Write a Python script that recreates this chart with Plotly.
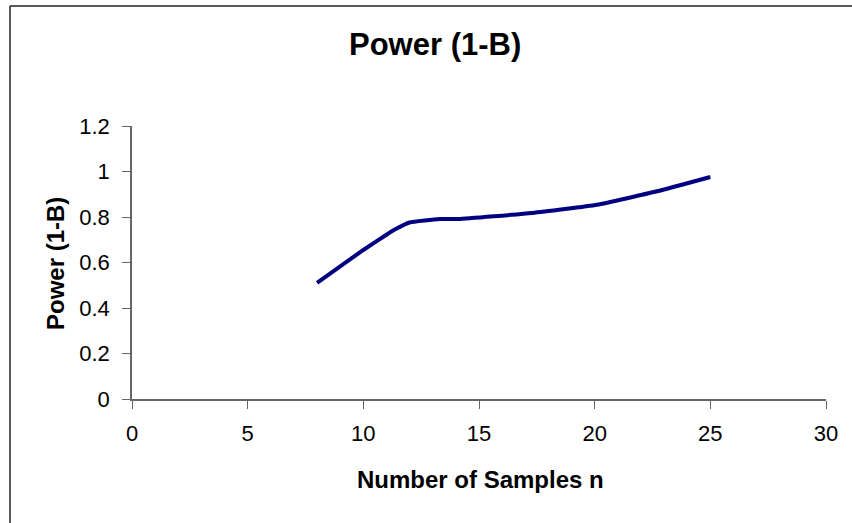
import plotly.graph_objects as go

n_samples = [8, 9, 10, 11, 11.4, 12, 13.3, 14.1, 17.3, 20.1, 22.7, 25]
power = [0.51, 0.583, 0.655, 0.722, 0.747, 0.776, 0.791, 0.791, 0.818, 0.854, 0.913, 0.976]

x_ticks = [0, 5, 10, 15, 20, 25, 30]
y_ticks = [0, 0.2, 0.4, 0.6, 0.8, 1, 1.2]
y_tick_text = ["0", "0.2", "0.4", "0.6", "0.8", "1", "1.2"]

font = "Liberation Sans, Arial, sans-serif"

L, R, T, B = 132, 26, 126, 124
W, H = 852, 523
pw, ph = W - L - R, H - T - B


def px(x):
    return (x - L) / pw


def py(y):
    return (H - B - y) / ph


fig = go.Figure()
fig.add_trace(go.Scatter(
    x=n_samples, y=power, mode="lines",
    line=dict(color="#000080", width=4, shape="spline", smoothing=0.4),
    showlegend=False,
))

border = dict(color="#222", width=1.5)

fig.update_layout(
    width=W, height=H,
    paper_bgcolor="white", plot_bgcolor="white",
    margin=dict(l=L, r=R, t=T, b=B, autoexpand=False),
    font=dict(family=font, size=22, color="black"),
    xaxis=dict(
        range=[0, 30], tickvals=x_ticks, ticks="outside", ticklen=8,
        tickcolor="#666", showline=True, linecolor="#666", linewidth=1.5,
        showgrid=False, zeroline=False, tickfont=dict(size=22),
        ticklabelstandoff=6,
    ),
    yaxis=dict(
        range=[0, 1.2], tickvals=y_ticks, ticktext=y_tick_text, ticks="outside", ticklen=8,
        tickcolor="#666", showline=True, linecolor="#666", linewidth=1.5,
        showgrid=False, zeroline=False, tickfont=dict(size=22),
        ticklabelstandoff=8,
    ),
    shapes=[
        dict(type="line", xref="paper", yref="paper",
             x0=px(10), x1=px(10), y0=py(523), y1=py(6), line=border),
        dict(type="line", xref="paper", yref="paper",
             x0=px(10), x1=px(852), y0=py(6), y1=py(6), line=border),
    ],
    annotations=[
        dict(text="<b>Power (1-B)</b>", xref="paper", yref="paper",
             x=px(435), y=py(45), xanchor="center", yanchor="middle",
             showarrow=False, font=dict(size=31, family=font)),
        dict(text="<b>Number of Samples n</b>", xref="paper", yref="paper",
             x=px(480), y=py(479), xanchor="center", yanchor="middle",
             showarrow=False, font=dict(size=24, family=font)),
        dict(text="<b>Power (1-B)</b>", xref="paper", yref="paper",
             x=px(55), y=py(264), xanchor="center", yanchor="middle",
             textangle=-90, showarrow=False, font=dict(size=24, family=font)),
    ],
)

fig.write_html("out.html", config={"displayModeBar": False},
               post_script="document.body.style.margin='0';document.body.style.overflow='hidden';")
